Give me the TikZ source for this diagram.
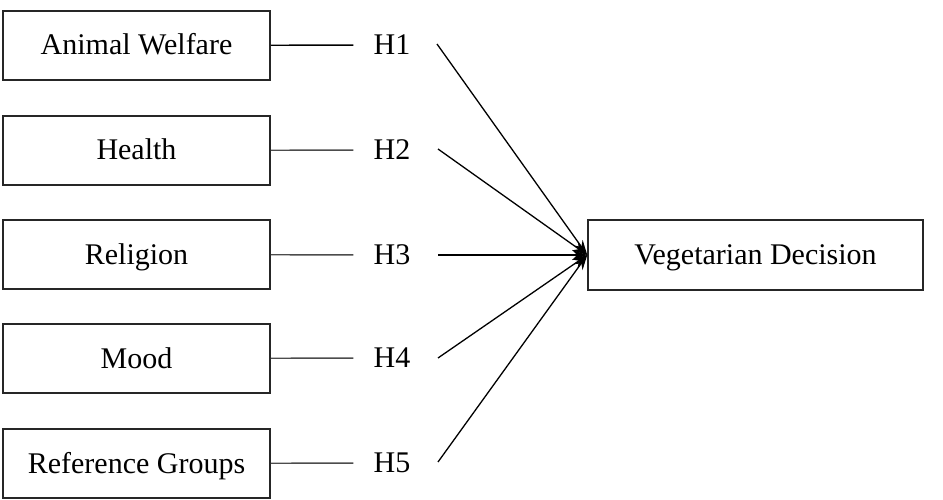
\documentclass[tikz,border=0pt]{standalone}
\usepackage{fontspec}
\setmainfont{Liberation Serif}
\usetikzlibrary{arrows.meta}
\begin{document}
\begin{tikzpicture}[x=1pt,y=-1pt,
  box/.style={draw=black!85,line width=1.5pt,minimum width=267pt,minimum height=69pt,inner sep=0pt,text height=19pt,text depth=0pt,font=\fontsize{30}{34}\selectfont},
  hyp/.style={inner sep=0pt,text height=19pt,text depth=0pt,font=\fontsize{30}{34}\selectfont},
  link/.style={draw=black!70,line width=1.4pt,shorten >=20pt},
  arr/.style={draw=black,line width=1.3pt,-{Stealth[length=15pt,width=10pt]}}]
\useasboundingbox (0,0) rectangle (943,500);
\node[box] (b1) at (136.5,45.5) {Animal Welfare};
\node[box] (b2) at (136.5,150.5) {Health};
\node[box] (b3) at (136.5,254.5) {Religion};
\node[box] (b4) at (136.5,358.5) {Mood};
\node[box] (b5) at (136.5,463.5) {Reference Groups};
\node[box,minimum width=335pt,minimum height=70pt] (v) at (755.5,255) {Vegetarian Decision};
\node[hyp] (h1) at (392,45) {H1};
\node[hyp] (h2) at (392,150) {H2};
\node[hyp] (h3) at (392,255) {H3};
\node[hyp] (h4) at (392,358) {H4};
\node[hyp] (h5) at (392,463) {H5};
\coordinate (s1) at (437,44);
\coordinate (s2) at (438,149);
\coordinate (s3) at (438,255);
\coordinate (s4) at (438,358);
\coordinate (s5) at (438,462);
\draw[link,draw=black] (b1) -- (h1);
\draw[link] (b2) -- (h2);
\draw[link] (b3) -- (h3);
\draw[link] (b4) -- (h4);
\draw[link] (b5) -- (h5);
\foreach \i in {1,...,5} {\draw[arr] (s\i) -- (v.west);}
\end{tikzpicture}
\end{document}
